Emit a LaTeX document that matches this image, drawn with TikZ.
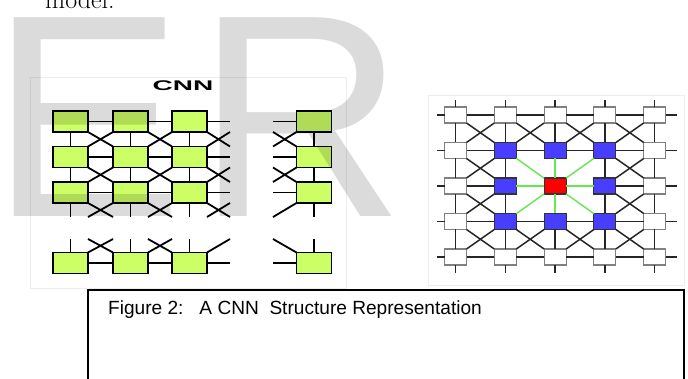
\documentclass[tikz,border=0pt]{standalone}
\usepackage{fontspec}
\usepackage{tikz}
\usetikzlibrary{calc}
\newfontfamily\capfont{Liberation Sans}
\newfontfamily\widefont[FakeStretch=2.0]{Liberation Sans}
\definecolor{cnngreen}{RGB}{204,255,102}
\definecolor{hopblue}{RGB}{72,62,255}
\definecolor{spokegreen}{RGB}{100,232,80}

\begin{document}
\begin{tikzpicture}[x=1pt,y=-1pt,
  cnncell/.style={draw=black,line width=1.5pt,fill=cnngreen,minimum width=35pt,minimum height=21pt,inner sep=0pt,outer sep=0pt},
  link/.style={line width=1.8pt},
  ring2/.style={draw=black!50,line width=1.1pt,fill=white,minimum width=22pt,minimum height=16pt,inner sep=0pt,outer sep=0pt},
  ring1/.style={ring2,draw=black!80,fill=hopblue},
  ring0/.style={ring2,draw=black!80,fill=red},
  glink/.style={line width=1.5pt,black!85},
  spoke/.style={line width=1.4pt,spokegreen}]
  \useasboundingbox (0,0) rectangle (688,379);
  \fill[white] (0,0) rectangle (688,379);
  \draw[black!7] (30,77) rectangle (346,288);
  \draw[black!7] (428,95) rectangle (684,285);
  \node[anchor=base west,inner sep=0pt,font=\fontsize{26}{26}\selectfont] (frag) at (45,9) {model.};
  \node[anchor=base,inner sep=0pt,font=\widefont\bfseries\fontsize{14}{14}\selectfont] (title) at (183,91) {CNN};

  \foreach \c/\x in {1/70.5,2/130.5,3/189.5,4/314}
    \foreach \r/\y in {1/121.5,2/157,3/192.5,4/263}
      \node[cnncell] (n\c\r) at (\x,\y) {};
  \coordinate (cutR) at (230,0);
  \coordinate (cutL) at (273,0);
  \coordinate (cutD) at (0,217);
  \coordinate (cutU) at (0,239);

  \foreach \r in {1,...,4} {
    \draw[link] (n1\r) -- (n2\r);
    \draw[link] (n2\r) -- (n3\r);
    \draw[link] (n3\r) -- (cutR |- n3\r);
    \draw[link] (cutL |- n4\r) -- (n4\r);
  }
  \foreach \r/\s in {1/2,2/3} {
    \foreach \c in {1,...,4}
      \draw[link] (n\c\r) -- (n\c\s);
    \foreach \c/\d in {1/2,2/3} {
      \draw[link] (n\c\r.south east) -- (n\d\s.north west);
      \draw[link] (n\d\r.south west) -- (n\c\s.north east);
    }
    \draw[link] (n3\r.south east) -- (cutR |- n3\s.north);
    \draw[link] (n3\s.north east) -- (cutR |- n3\r.south);
    \draw[link] (n4\r.south west) -- (cutL |- n4\s.north);
    \draw[link] (n4\s.north west) -- (cutL |- n4\r.south);
  }
  \foreach \c in {1,...,4} {
    \draw[link] (n\c3) -- (n\c3 |- cutD);
    \draw[link] (n\c4) -- (n\c4 |- cutU);
  }
  \foreach \c/\d in {1/2,2/3} {
    \draw[link] (n\c3.south east) -- (n\d3.south west |- cutD);
    \draw[link] (n\d3.south west) -- (n\c3.south east |- cutD);
    \draw[link] (n\c4.north east) -- (n\d4.north west |- cutU);
    \draw[link] (n\d4.north west) -- (n\c4.north east |- cutU);
  }
  \draw[link] (n33.south east) -- (cutR |- cutD);
  \draw[link] (cutR |- n33.south) -- (n33.south east |- cutD);
  \draw[link] (n43.south west) -- (cutL |- cutD);
  \draw[link] (n34.north east) -- (cutR |- cutU);
  \draw[link] (n44.north west) -- (cutL |- cutU);

  \foreach \c in {1,...,5}
    \foreach \r in {1,...,5} {
      \pgfmathtruncatemacro\hop{max(abs(\c-3),abs(\r-3))}
      \node[ring\hop] (m\c\r) at ({455.5+49.8*(\c-1)},{115+35.5*(\r-1)}) {};
    }
  \coordinate (gl) at (437,0);
  \coordinate (gr) at (677,0);
  \coordinate (gt) at (0,100);
  \coordinate (gb) at (0,273);

  \foreach \k in {1,...,5} {
    \draw[glink] (gl |- m1\k) -- (m1\k);
    \draw[glink] (m5\k) -- (gr |- m5\k);
    \draw[glink] (m\k1 |- gt) -- (m\k1);
    \draw[glink] (m\k5) -- (m\k5 |- gb);
  }
  \foreach \a/\b in {1/2,2/3,3/4,4/5}
    \foreach \k in {1,...,5} {
      \ifnum\k=3 \else
        \draw[glink] (m\a\k) -- (m\b\k);
        \draw[glink] (m\k\a) -- (m\k\b);
      \fi
    }
  \foreach \a/\b in {1/2,4/5} {
    \draw[glink] (m\a3) -- (m\b3);
    \draw[glink] (m3\a) -- (m3\b);
  }
  \foreach \c/\d in {1/2,2/3,3/4,4/5}
    \foreach \r/\s in {1/2,2/3,3/4,4/5} {
      \pgfmathtruncatemacro\core{and(and(\c>1,\c<4),and(\r>1,\r<4))}
      \ifnum\core=0
        \draw[glink] (m\c\r.south east) -- (m\d\s.north west);
        \draw[glink] (m\d\r.south west) -- (m\c\s.north east);
      \fi
    }
  \foreach \c/\r in {2/2,3/2,4/2,2/3,4/3,2/4,3/4,4/4}
    \draw[spoke] (m33) -- (m\c\r);

  \node[draw,line width=2pt,anchor=north west,minimum width=596pt,minimum height=140pt,inner sep=0pt,outer sep=0pt] (capbox) at (88,290) {};
  \node[anchor=base west,inner sep=0pt,font=\capfont\fontsize{19.1}{21}\selectfont] (captext) at (108,315) {Figure 2:~~~A CNN~~Structure Representation};

  \node[anchor=base west,inner sep=0pt,text=black,text opacity=0.14,font=\capfont\fontsize{289}{289}\selectfont] (markE) at (-10,217) {E};
  \node[anchor=base west,inner sep=0pt,text=black,text opacity=0.14,font=\capfont\fontsize{289}{289}\selectfont] (markR) at (196,217) {R};
\end{tikzpicture}
\end{document}
